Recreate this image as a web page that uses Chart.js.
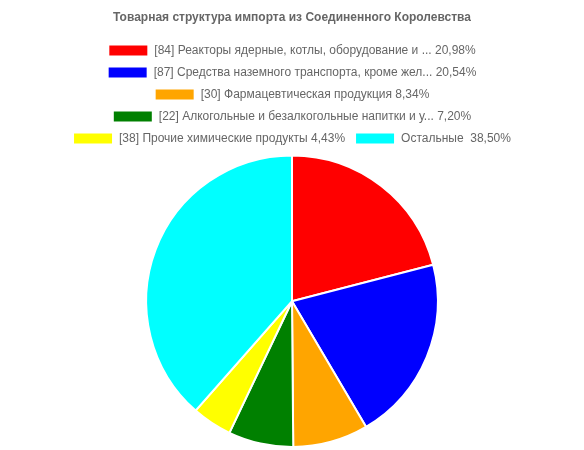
<!DOCTYPE html>
<html>
<head>
<meta charset="utf-8">
<script src="https://cdn.jsdelivr.net/npm/chart.js@4"></script>
<style>
  html, body { margin: 0; padding: 0; background: #fff; }
  #wrap { width: 584px; height: 450px; position: relative; }
</style>
</head>
<body>
<div id="wrap"><canvas id="mainChart"></canvas></div>
<script>
const categories = [
    '[84] Реакторы ядерные, котлы, оборудование и ... 20,98%',
    '[87] Средства наземного транспорта, кроме жел... 20,54%',
    '[30] Фармацевтическая продукция 8,34%',
    '[22] Алкогольные и безалкогольные напитки и у... 7,20%',
    '[38] Прочие химические продукты 4,43%',
    'Остальные  38,50%'
];
const shares = [20.98, 20.54, 8.34, 7.20, 4.43, 38.50];
const sliceColors = ['#ff0000', '#0000ff', '#ffa500', '#008000', '#ffff00', '#00ffff'];

Chart.defaults.font.family = "'Helvetica Neue', Helvetica, Arial, 'Liberation Sans', sans-serif";
Chart.defaults.color = '#666';

document.addEventListener('DOMContentLoaded', () => {
    const ctx = document.getElementById('mainChart').getContext('2d');
    new Chart(ctx, {
        type: 'pie',
        data: {
            labels: categories,
            datasets: [{
                data: shares,
                backgroundColor: sliceColors,
                borderColor: '#fff',
                borderWidth: 2
            }]
        },
        options: {
            responsive: true,
            maintainAspectRatio: false,
            animation: false,
            layout: { padding: { top: 0, bottom: 2 } },
            plugins: {
                title: {
                    display: true,
                    text: 'Товарная структура импорта из Соединенного Королевства',
                    color: '#666',
                    font: { size: 12, weight: 'bold' },
                    padding: { top: 10, bottom: 10 }
                },
                legend: {
                    position: 'top',
                    labels: {
                        boxWidth: 40,
                        boxHeight: 12,
                        padding: 10,
                        color: '#666',
                        font: { size: 12 }
                    }
                },
                tooltip: { enabled: false }
            }
        }
    });
});
</script>
</body>
</html>
